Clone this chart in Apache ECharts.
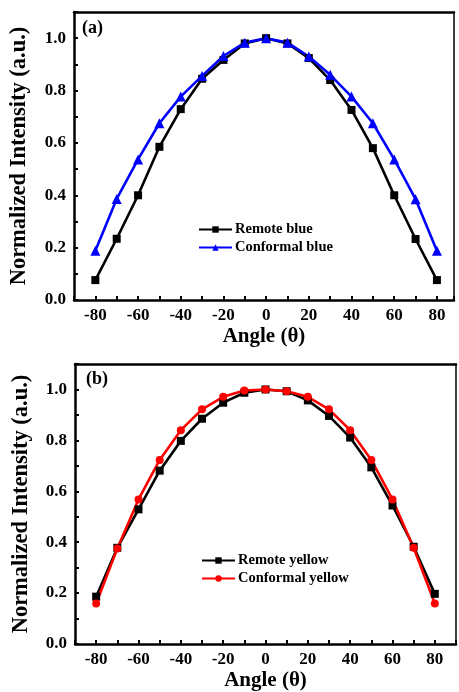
<!DOCTYPE html>
<html><head><meta charset="utf-8">
<script src="https://cdn.jsdelivr.net/npm/echarts@6/dist/echarts.min.js"></script>
<style>html,body{margin:0;padding:0;background:#fff}#c{width:459px;height:692px}</style>
</head><body><div id="c"></div><script>
const angles = [-80,-70,-60,-50,-40,-30,-20,-10,0,10,20,30,40,50,60,70,80];
const remoteBlue = [0.076,0.234,0.400,0.585,0.729,0.845,0.917,0.980,1.000,0.980,0.924,0.840,0.726,0.580,0.400,0.233,0.076];
const conformalBlue = [0.188,0.386,0.537,0.675,0.777,0.856,0.932,0.983,1.000,0.983,0.930,0.860,0.777,0.675,0.537,0.385,0.188];
const remoteYellow = [0.186,0.378,0.529,0.681,0.798,0.885,0.948,0.987,1.000,0.993,0.957,0.896,0.811,0.694,0.544,0.382,0.197];
const conformalYellow = [0.159,0.375,0.568,0.723,0.840,0.922,0.971,0.996,1.000,0.993,0.971,0.922,0.840,0.723,0.568,0.378,0.159];
const xLabels = [-80,-60,-40,-20,0,20,40,60,80];
const yLabels = [0.0,0.2,0.4,0.6,0.8,1.0];

const FONT = 'Liberation Serif';
const pairs = (ys) => angles.map((a, i) => [a, ys[i]]);

function xAxisFor(gi, min, max) {
  return [{
    type: 'value', gridIndex: gi, min: min, max: max, interval: 10, position: 'bottom',
    name: 'Angle (\u03b8)', nameLocation: 'middle', nameGap: 26,
    nameTextStyle: { fontFamily: FONT, fontWeight: 'bold', fontSize: 21, color: '#000' },
    axisLine: { show: true, onZero: false, lineStyle: { color: '#000', width: 2.5 } },
    axisTick: { show: true, inside: true, length: 4, lineStyle: { color: '#000', width: 2 } },
    axisLabel: {
      margin: 7, fontFamily: FONT, fontWeight: 'bold', fontSize: 17, color: '#000',
      formatter: v => xLabels.indexOf(Math.round(v)) >= 0 && Math.abs(v - Math.round(v)) < 1e-6 ? String(Math.round(v)) : ''
    },
    splitLine: { show: false }
  }, {
    type: 'value', gridIndex: gi, min: min, max: max, position: 'top',
    axisLine: { show: true, onZero: false, lineStyle: { color: '#000', width: 2.5 } },
    axisTick: { show: false }, axisLabel: { show: false }, splitLine: { show: false }
  }];
}
function yAxisFor(gi, gap) {
  return [{
    type: 'value', gridIndex: gi, min: 0, max: 1.1, interval: 0.1, position: 'left',
    name: 'Normalized Intensity (a.u.)', nameLocation: 'middle', nameGap: gap,
    nameTextStyle: { fontFamily: FONT, fontWeight: 'bold', fontSize: 22.5, color: '#000' },
    axisLine: { show: true, onZero: false, lineStyle: { color: '#000', width: 2.5 } },
    axisTick: { show: true, inside: true, length: 4, lineStyle: { color: '#000', width: 2 } },
    axisLabel: {
      margin: 8, fontFamily: FONT, fontWeight: 'bold', fontSize: 17, color: '#000',
      formatter: v => {
        const r = Math.round(v * 10) / 10;
        return yLabels.some(t => Math.abs(t - r) < 1e-6) && Math.abs(v - r) < 1e-6 ? r.toFixed(1) : '';
      }
    },
    splitLine: { show: false }
  }, {
    type: 'value', gridIndex: gi, min: 0, max: 1.1, position: 'right',
    axisLine: { show: true, onZero: false, lineStyle: { color: '#000', width: 1.5 } },
    axisTick: { show: false }, axisLabel: { show: false }, splitLine: { show: false }
  }];
}

const xa = xAxisFor(0, -90, 88).concat(xAxisFor(1, -90, 90));
const ya = yAxisFor(0, 43).concat(yAxisFor(1, 42));

function lineSeries(name, ys, color, symbol, size, xi, yi) {
  return {
    name: name, type: 'line', data: pairs(ys), xAxisIndex: xi, yAxisIndex: yi,
    symbol: symbol, symbolSize: size, showAllSymbol: true,
    lineStyle: { color: color, width: 2.6 },
    itemStyle: { color: color },
    emphasis: { disabled: true }, animation: false
  };
}

const legendText = { fontFamily: FONT, fontWeight: 'bold', fontSize: 14.5, color: '#000', padding: [0, 0, 0, -2] };

const option = {
  backgroundColor: '#fff',
  animation: false,
  grid: [
    { left: 72, right: 5, top: 12, height: 288 },
    { left: 75, right: 2, top: 364, height: 282 }
  ],
  xAxis: xa,
  yAxis: ya,
  legend: [
    { data: ['Remote blue', 'Conformal blue'], orient: 'vertical', left: 198, top: 222, padding: 0,
      itemWidth: 33, itemHeight: 8, itemGap: 3, textStyle: legendText, selectedMode: false },
    { data: ['Remote yellow', 'Conformal yellow'], orient: 'vertical', left: 201, top: 553, padding: 0,
      itemWidth: 33, itemHeight: 8, itemGap: 3, textStyle: legendText, selectedMode: false }
  ],
  graphic: [
    { type: 'text', left: 82, top: 19, style: { text: '(a)', fontFamily: FONT, fontWeight: 'bold', fontSize: 18, fill: '#000' } },
    { type: 'text', left: 86, top: 370, style: { text: '(b)', fontFamily: FONT, fontWeight: 'bold', fontSize: 18, fill: '#000' } }
  ],
  series: [
    lineSeries('Remote blue', remoteBlue, '#000000', 'rect', 8, 0, 0),
    lineSeries('Conformal blue', conformalBlue, '#0000ff', 'triangle', 10, 0, 0),
    lineSeries('Remote yellow', remoteYellow, '#000000', 'rect', 8, 2, 2),
    lineSeries('Conformal yellow', conformalYellow, '#ff0000', 'circle', 8, 2, 2)
  ]
};

const chart = echarts.init(document.getElementById('c'), null, { renderer: 'canvas' });
chart.setOption(option);
</script></body></html>
